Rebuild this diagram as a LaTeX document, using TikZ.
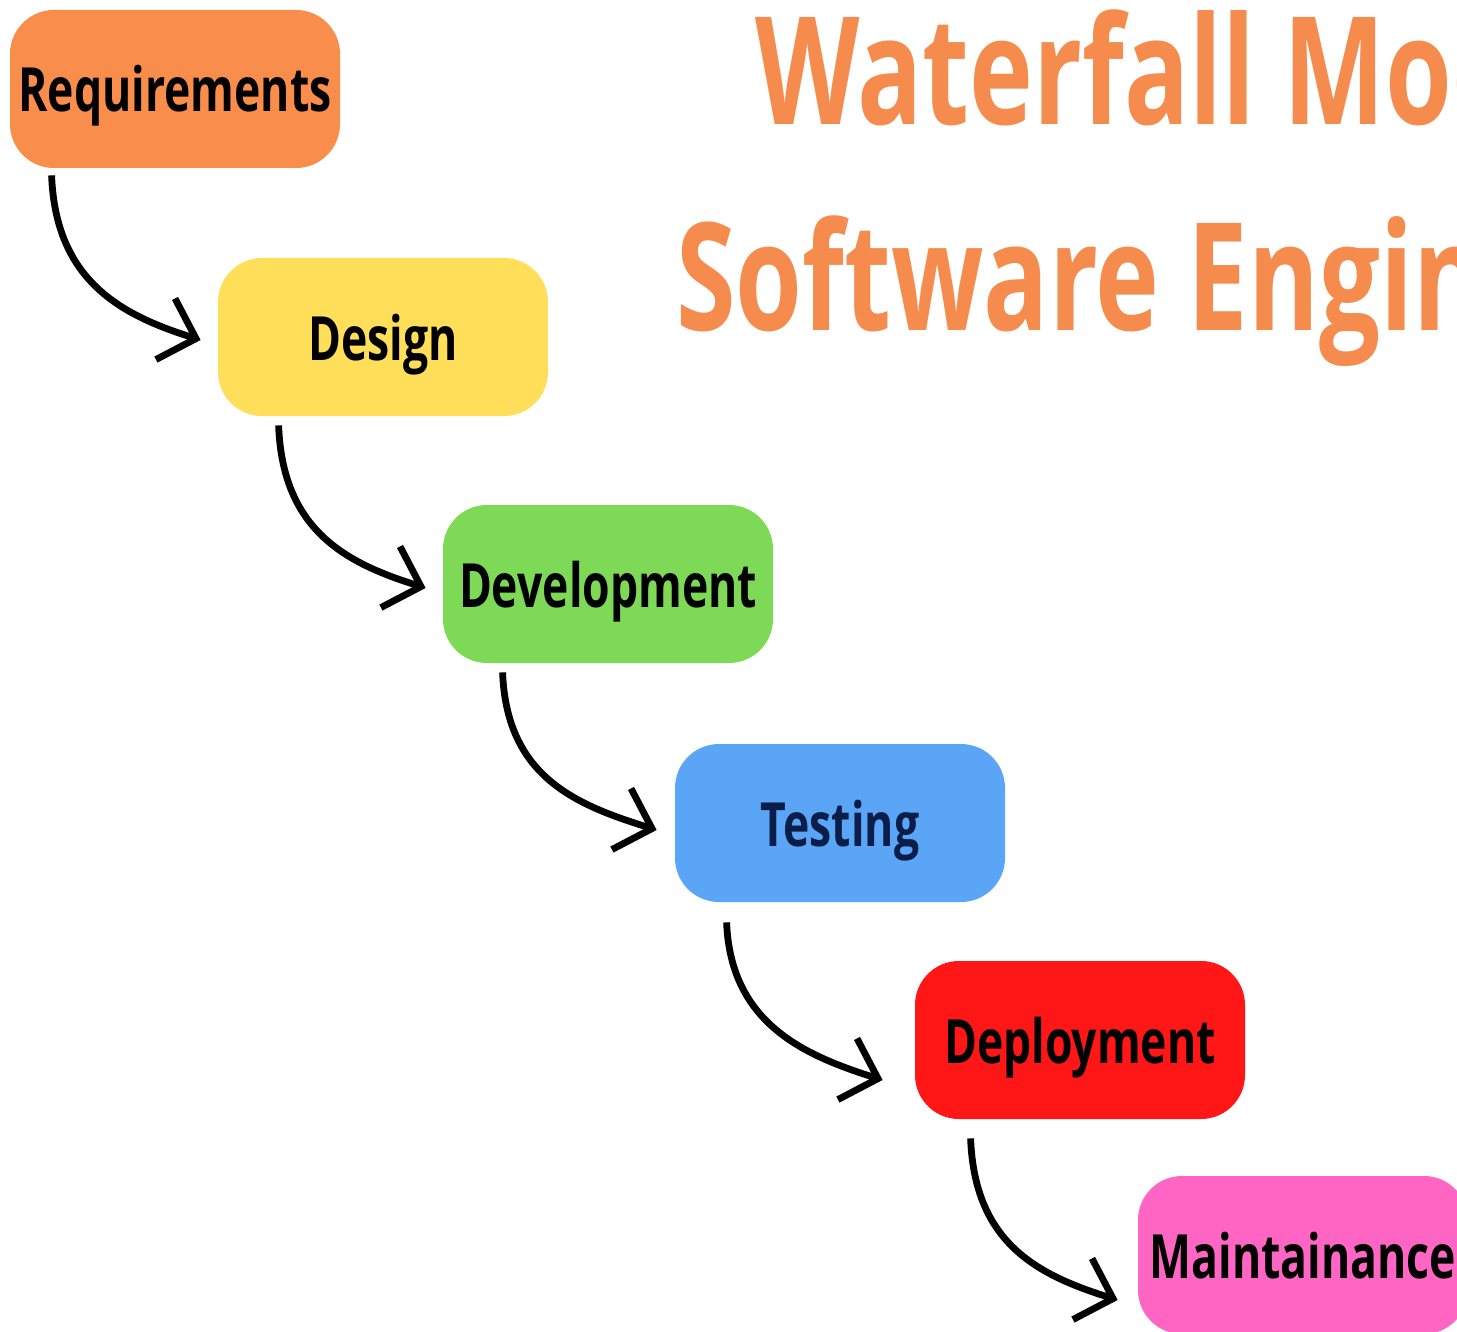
\documentclass[tikz,border=0pt]{standalone}
\usepackage{fontspec}
\setmainfont{Open Sans}
\newfontfamily\boxfont[FakeStretch=0.73]{Open Sans}
\newfontfamily\titfont[FakeStretch=0.72]{Open Sans}
\usetikzlibrary{arrows.meta,calc}
\definecolor{reqc}{HTML}{F98D4B}
\definecolor{desc}{HTML}{FFDE59}
\definecolor{devc}{HTML}{7ED957}
\definecolor{tstc}{HTML}{5AA5F5}
\definecolor{tsttext}{HTML}{0B1E4A}
\definecolor{depc}{HTML}{FF1616}
\definecolor{mntc}{HTML}{FF66C4}
\definecolor{titc}{HTML}{F58B4C}
\begin{document}
\begin{tikzpicture}[x=0.5pt,y=-0.5pt,
  phase/.style={rounded corners=22pt, minimum width=165pt, minimum height=79pt,
    inner sep=0pt, text height=30pt, text depth=7pt,
    font=\boxfont\bfseries\fontsize{30.5}{36}\selectfont},
  flow/.style={line width=3.4pt,
    -{Straight Barb[length=16pt,width=32pt,line width=3.4pt]}},
  title/.style={anchor=base west, inner sep=0pt, text=titc,
    font=\titfont\bfseries\fontsize{75}{90}\selectfont}]
\useasboundingbox (0,0) rectangle (1457,1332);
\clip (0,0) rectangle (1457,1332);
\fill[white] (0,0) rectangle (1457,1332);

\node[title] (t1) at (755,125) {Waterfall Model};
\node[title] (t2) at (676,330) {Software Engineering};

\node[phase, fill=reqc] (req) at (175,89) {Requirements};
\node[phase, fill=desc] (des) at (383,337) {Design};
\node[phase, fill=devc] (dev) at (608,584) {Development};
\node[phase, fill=tstc, text=tsttext] (tst) at (840,823) {Testing};
\node[phase, fill=depc] (dep) at (1080,1040) {Deployment};
\node[phase, fill=mntc] (mnt) at (1303,1255) {Maintainance};

\draw[flow] ($(req.south west)+(42,7)$) .. controls +(4,105) and +(-80,-25) .. ($(des.west)+(-17,3)$);
\draw[flow] ($(des.south west)+(61,9)$) .. controls +(4,105) and +(-80,-25) .. ($(dev.west)+(-17,4)$);
\draw[flow] ($(dev.south west)+(60,9)$) .. controls +(4,105) and +(-80,-25) .. ($(tst.west)+(-18,7)$);
\draw[flow] ($(tst.south west)+(52,20)$) .. controls +(4,100) and +(-80,-25) .. ($(dep.west)+(-32,40)$);
\draw[flow] ($(dep.south west)+(56,19)$) .. controls +(4,105) and +(-80,-25) .. ($(mnt.west)+(-20,45)$);
\end{tikzpicture}
\end{document}
